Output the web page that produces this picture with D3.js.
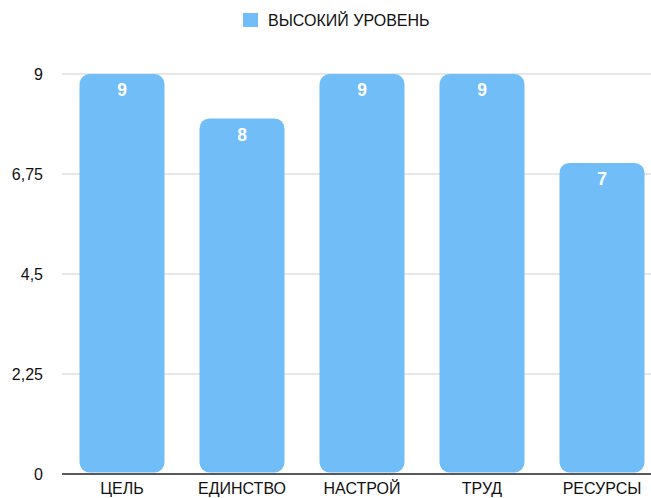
<!DOCTYPE html>
<html>
<head>
<meta charset="utf-8">
<script src="https://cdn.jsdelivr.net/npm/d3@7"></script>
<style>
  html, body { margin: 0; padding: 0; background: #fff; }
  svg { display: block; font-family: "Liberation Sans", Arial, sans-serif; }
</style>
</head>
<body>
<svg id="chart" width="651" height="498"></svg>
<script>
const categories = ["ЦЕЛЬ", "ЕДИНСТВО", "НАСТРОЙ", "ТРУД", "РЕСУРСЫ"];
const values = [9, 8, 9, 9, 7];
const yTicks = [0, 2.25, 4.5, 6.75, 9];
const yTickLabels = ["0", "2,25", "4,5", "6,75", "9"];
const seriesName = "ВЫСОКИЙ УРОВЕНЬ";

const color = "#70bdf8";
const svg = d3.select("#chart");

const x = d3.scaleBand()
  .domain(categories)
  .range([62, 662])
  .paddingInner(35 / 120)
  .paddingOuter(17.5 / 120);

const y = d3.scaleLinear().domain([0, 9]).range([474, 74]);

// gridlines
svg.append("g")
  .selectAll("line")
  .data(yTicks.filter(d => d !== 0))
  .join("line")
  .attr("x1", 62).attr("x2", 651)
  .attr("y1", d => y(d)).attr("y2", d => y(d))
  .attr("stroke", "#cfcfcf").attr("stroke-width", 1);

// y tick labels
svg.append("g")
  .selectAll("text")
  .data(yTicks)
  .join("text")
  .attr("x", 43)
  .attr("y", d => y(d))
  .attr("dy", "0.35em")
  .attr("text-anchor", "end")
  .attr("font-size", 16)
  .attr("fill", "#111")
  .text((d, i) => yTickLabels[i]);

// bars
svg.append("g")
  .selectAll("rect")
  .data(values)
  .join("rect")
  .attr("x", (d, i) => x(categories[i]))
  .attr("width", x.bandwidth())
  .attr("y", d => y(d))
  .attr("height", d => y(0) - 1.5 - y(d))
  .attr("rx", 10).attr("ry", 10)
  .attr("fill", color);

// axis line
svg.append("line")
  .attr("x1", 62).attr("x2", 651)
  .attr("y1", y(0)).attr("y2", y(0))
  .attr("stroke", "#222").attr("stroke-width", 1.5);

// value labels
svg.append("g")
  .selectAll("text")
  .data(values)
  .join("text")
  .attr("x", (d, i) => x(categories[i]) + x.bandwidth() / 2)
  .attr("y", d => y(d) + 16)
  .attr("dy", "0.35em")
  .attr("text-anchor", "middle")
  .attr("font-size", 17.5)
  .attr("font-weight", "bold")
  .attr("fill", "#fff")
  .text(d => d);

// category labels
svg.append("g")
  .selectAll("text")
  .data(categories)
  .join("text")
  .attr("x", d => x(d) + x.bandwidth() / 2)
  .attr("y", 494)
  .attr("text-anchor", "middle")
  .attr("font-size", 16)
  .attr("fill", "#111")
  .text(d => d);

// legend
const lg = svg.append("g");
lg.append("rect")
  .attr("x", 243).attr("y", 13).attr("width", 15).attr("height", 14)
  .attr("fill", color);
lg.append("text")
  .attr("x", 268).attr("y", 20)
  .attr("dy", "0.35em")
  .attr("font-size", 16)
  .attr("fill", "#111")
  .text(seriesName);
</script>
</body>
</html>
